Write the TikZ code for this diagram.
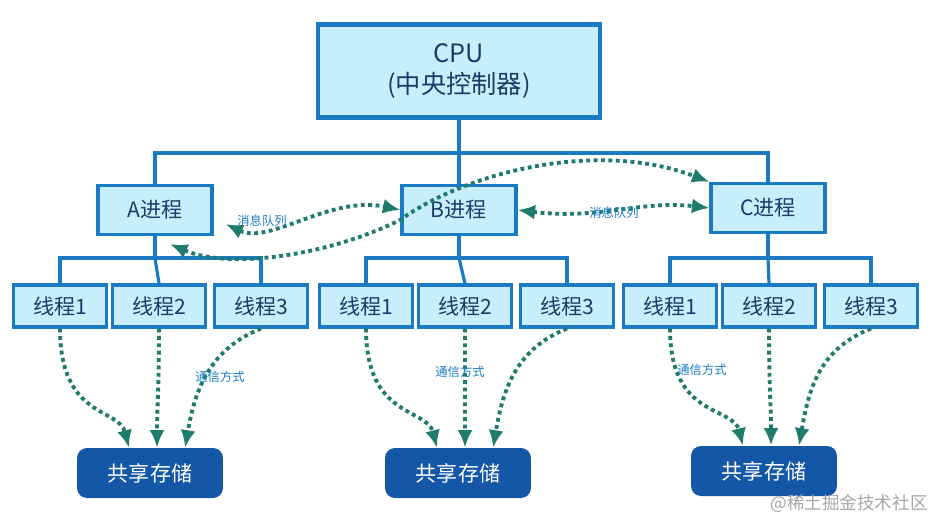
\documentclass[tikz,border=0pt]{standalone}
\usepackage{fontspec}
\setmainfont{Noto Sans CJK SC}
\usetikzlibrary{arrows.meta,positioning}
\definecolor{boxline}{HTML}{1B7BC2}
\definecolor{boxfill}{HTML}{C8EDFB}
\definecolor{storefill}{HTML}{1457A6}
\definecolor{msgline}{HTML}{1E7B6E}
\definecolor{boxtext}{HTML}{173E6B}
\tikzset{
  semithick,
  proc/.style={
    draw=boxline,
    fill=boxfill,
    text=boxtext,
    line width=1.8pt,
    minimum width=2.28cm,
    minimum height=0.98cm,
    inner sep=0mm,
    font=\large
  },
  thread/.style={
    proc,
    minimum width=1.86cm,
    minimum height=0.84cm
  },
  store/.style={
    fill=storefill,
    text=white,
    rounded corners=2mm,
    minimum width=2.92cm,
    minimum height=1cm,
    font=\large
  },
  tree/.style={
    draw=boxline,
    line width=1.8pt
  },
  msg/.style={
    draw=msgline,
    line width=2.2pt,
    dotted,
    {Latex[length=3.5mm,width=3mm]}-{Latex[length=3.5mm,width=3mm]}
  },
  share/.style={
    draw=msgline,
    line width=2.2pt,
    dotted,
    -{Latex[length=3.5mm,width=3mm]}
  },
  lbl/.style={
    text=boxline,
    font=\scriptsize
  }
}
\begin{document}
\begin{tikzpicture}[x=0.02cm,y=-0.02cm]
\useasboundingbox (0,0) rectangle (939,531);
% CPU
\node[proc,minimum width=5.64cm,minimum height=1.86cm,line width=2.6pt,
      align=center,font=\Large] (cpu) at (459,71) {CPU\\(中央控制器)};
% processes
\node[proc] (pa) at (155,210) {A进程};
\node[proc] (pb) at (459,210) {B进程};
\node[proc] (pc) at (768,208) {C进程};
% threads
\foreach \p/\x in {a/60,b/366,c/670}{
  \node[thread] (\p1) at (\x,306) {线程1};
  \node[thread] (\p2) at (\x+99,306) {线程2};
  \node[thread] (\p3) at (\x+201,306) {线程3};
}
% shared storage
\node[store] (sa) at (150,473) {共享存储};
\node[store] (sb) at (458,473) {共享存储};
\node[store] (sc) at (764,471) {共享存储};
% tree lines
\draw[tree] (cpu.south) -- (cpu.south |- 0,153) coordinate (bus);
\draw[tree] (pa.north) |- (bus) -| (pc.north);
\draw[tree] (bus) -- (pb.north);
\foreach \p in {a,b,c}{
  \draw[tree] (p\p.south) -- (p\p.south |- 0,258) coordinate (b\p);
  \draw[tree] (\p1.north) |- (b\p) -| (\p3.north);
  \draw[tree] (b\p) -- (\p2.north);
}
% message queues
\draw[msg] (pa.east) ++(12,14) coordinate (ma)
  .. controls (270,245) and (330,195) .. (pb.west);
\draw[msg] (pb.east) .. controls (600,220) and (640,200) .. (pc.west);
\draw[msg] (pa.south) ++(15,8) coordinate (mc)
  .. controls (230,270) and (330,255) .. (400,220)
  .. controls (470,170) and (600,140) .. (pc.north west);
\node[lbl] (qa) at (262,221) {消息队列};
\node[lbl] (qb) at (614,213) {消息队列};
% thread to storage
\foreach \p in {a,b,c}{
  \draw[share] (\p1.south) .. controls +(0,90) and +(-10,-40) .. ([xshift=-12]s\p.north);
  \draw[share] (\p2.south) .. controls +(0,60) and +(0,-40) .. ([xshift=4]s\p.north);
  \draw[share] (\p3.south) .. controls +(-50,20) and +(10,-60) .. ([xshift=20]s\p.north);
}
\node[lbl] (ca) at (220,377) {通信方式};
\node[lbl] (cb) at (460,372) {通信方式};
\node[lbl] (cc) at (702,370) {通信方式};
\node[text=gray!70,font=\normalsize] (wm) at (849,504) {@稀土掘金技术社区};
\end{tikzpicture}
\end{document}
